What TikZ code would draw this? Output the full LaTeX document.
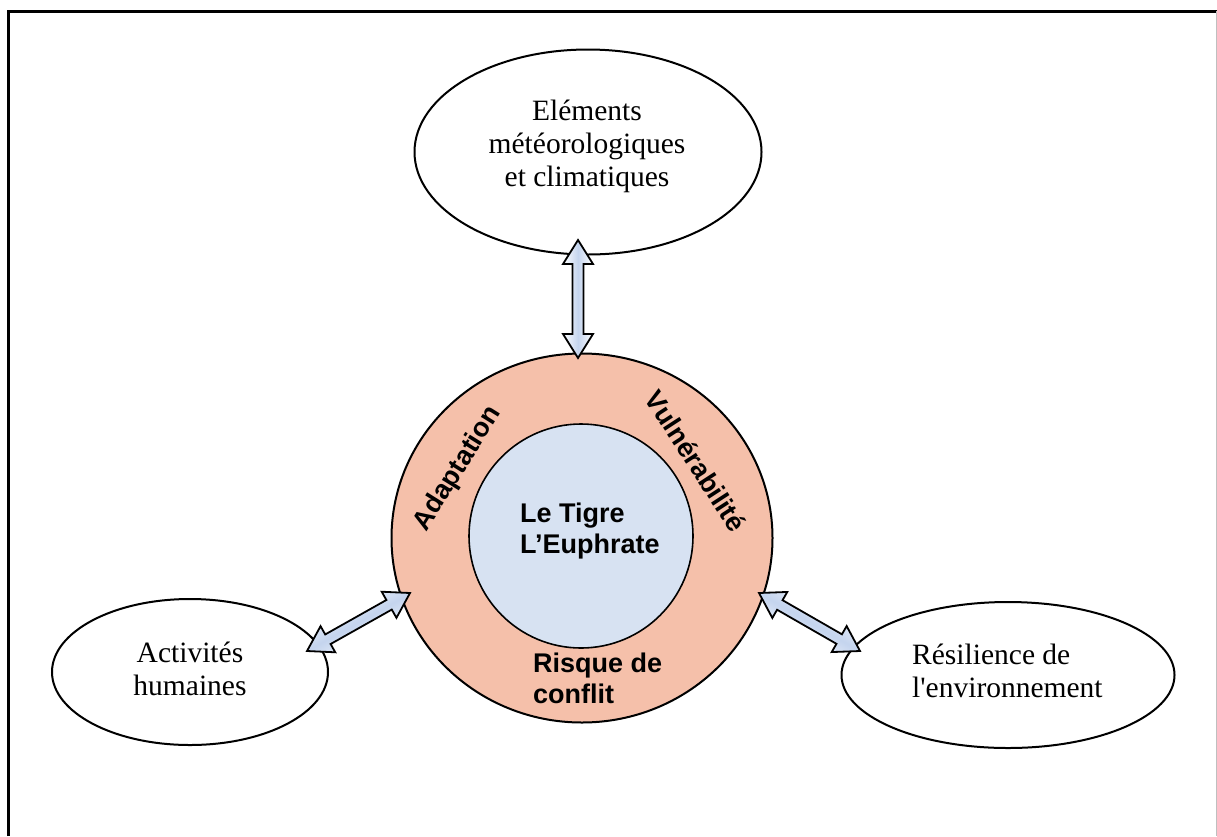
\documentclass[tikz,border=0pt]{standalone}
\usepackage{fontspec}
\setmainfont{Liberation Serif}
\newfontfamily\arialfont{Liberation Sans}
\usetikzlibrary{calc,shapes.geometric}
\definecolor{ringfill}{RGB}{245,192,170}
\definecolor{corefill}{RGB}{215,226,242}
\definecolor{arrowblue}{RGB}{196,212,238}
\tikzset{
  oval/.style={ellipse, draw=black, line width=2pt, fill=white, inner sep=0pt},
  seriftext/.style={font=\fontsize{29.5}{33}\selectfont, inner sep=0pt},
  sanstext/.style={font=\arialfont\bfseries\fontsize{27}{31}\selectfont, inner sep=0pt},
  blockarrow/.style={draw=black, line width=1.8pt, line join=miter,
    left color=white, right color=white, middle color=arrowblue,
    to path={let \p1=($(\tikztotarget)-(\tikztostart)$),
      \n1={atan2(\y1,\x1)}, \n2={veclen(\x1,\y1)} in
      (\tikztostart) -- ++($(\n1:24pt)+(\n1+90:15pt)$)
      -- ++(\n1-90:9.5pt) -- ++(\n1:{(\n2-48)*1pt}) -- ++(\n1+90:9.5pt)
      -- (\tikztotarget)
      -- ++($(\n1+180:24pt)+(\n1-90:15pt)$)
      -- ++(\n1+90:9.5pt) -- ++(\n1+180:{(\n2-48)*1pt}) -- ++(\n1-90:9.5pt)
      -- cycle}}
}
\begin{document}
\begin{tikzpicture}[x=1pt,y=-1pt]
\useasboundingbox (0,0) rectangle (1217,836);
% frame
\draw[line width=3pt] (8,836) -- (8,11) -- (1217,11);
\draw[black!25, line width=1pt] (1216,11) -- (1216,836);

% outer ellipses
\node[oval, minimum width=347, minimum height=205] (top) at (588,152) {};
\node[oval, minimum width=276, minimum height=146] (left) at (190,672) {};
\node[oval, minimum width=333, minimum height=146] (right) at (1008,675) {};

\node[seriftext, align=center, anchor=base] (toptext) at (587,186)
  {Eléments\\météorologiques\\et climatiques};
\node[seriftext, align=center, anchor=base] (lefttext) at (190,695)
  {Activités\\humaines};
\node[seriftext, align=left, anchor=base west] (righttext) at (912,697)
  {Résilience de\\l\textquotesingle environnement};

% central rings
\node[ellipse, draw=black, line width=2pt, fill=ringfill,
      minimum width=381, minimum height=369, inner sep=0pt] (ring) at (582,538) {};
\node[circle, draw=black, line width=1.6pt, fill=corefill,
      minimum size=224, inner sep=0pt] (core) at (581,536) {};

\node[sanstext, align=left, anchor=base west] (coretext) at (520,553)
  {Le Tigre\\L’Euphrate};
\node[sanstext, align=left, anchor=base west] (risk) at (533,703)
  {Risque de\\conflit};
\node[sanstext, rotate=58] (adapt) at (458,469) {Adaptation};
\node[sanstext, rotate=-57] (vuln) at (696,461) {Vulnérabilité};

% arrows
\coordinate (v1) at (578,240);
\coordinate (v2) at (578,358);
\coordinate (l1) at (307,651);
\coordinate (l2) at (410,593);
\coordinate (r1) at (759,593);
\coordinate (r2) at (860,651);
\draw[blockarrow, shading angle=90] (v1) to (v2);
\draw[blockarrow, shading angle=29] (l1) to (l2);
\draw[blockarrow, shading angle=-30] (r1) to (r2);
\end{tikzpicture}
\end{document}
